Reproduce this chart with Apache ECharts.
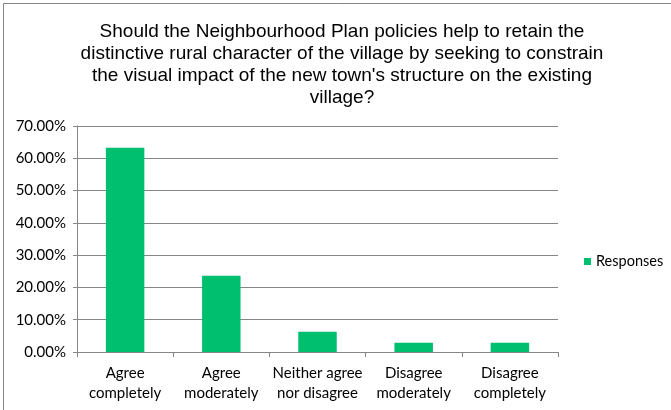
<!DOCTYPE html>
<html><head><meta charset="utf-8">
<script src="https://cdn.jsdelivr.net/npm/echarts@6/dist/echarts.min.js"></script>
<style>html,body{margin:0;padding:0;background:#fff}#c{width:671px;height:410px}</style>
</head><body><div id="c"></div>
<script>
const categories = ['Agree\ncompletely', 'Agree\nmoderately', 'Neither agree\nnor disagree', 'Disagree\nmoderately', 'Disagree\ncompletely'];
const responses = [63.3, 23.6, 6.3, 2.9, 2.9];
const yTicks = [0, 10, 20, 30, 40, 50, 60, 70];
const titleText = "Should the Neighbourhood Plan policies help to retain the\ndistinctive rural character of the village by seeking to constrain\nthe visual impact of the new town's structure on the existing\nvillage?";

const chart = echarts.init(document.getElementById('c'));
chart.setOption({
  animation: false,
  graphic: [{
    type: 'rect', shape: {x: 3.5, y: 3.5, width: 700, height: 430},
    style: {fill: 'none', stroke: '#868686', lineWidth: 1}, silent: true
  }],
  title: {
    text: titleText, left: 337, textAlign: 'center', top: 16,
    textStyle: {fontFamily: 'Liberation Sans', fontSize: 19, fontWeight: 'normal', color: '#000', lineHeight: 22}
  },
  legend: {
    data: ['Responses'], orient: 'vertical', left: 579, top: 249,
    itemWidth: 7, itemHeight: 7, itemGap: 4,
    icon: 'rect',
    textStyle: {fontFamily: 'Lato', fontSize: 14.5, color: '#000', padding: [0,0,0,0]}
  },
  grid: {left: 77, right: 113, top: 126, bottom: 58},
  xAxis: {
    type: 'category', data: categories,
    axisLine: {lineStyle: {color: '#868686'}},
    axisTick: {show: true, length: 5, lineStyle: {color: '#868686'}},
    axisLabel: {fontFamily: 'Lato', fontSize: 15, color: '#000', lineHeight: 20, margin: 11, interval: 0}
  },
  yAxis: {
    type: 'value', min: yTicks[0], max: yTicks[yTicks.length-1], interval: 10,
    axisLine: {show: true, lineStyle: {color: '#868686'}},
    axisTick: {show: true, length: 4, lineStyle: {color: '#868686'}},
    splitLine: {lineStyle: {color: '#868686'}},
    axisLabel: {fontFamily: 'Lato', fontSize: 15, color: '#000', margin: 11, formatter: v => v.toFixed(2) + '%'}
  },
  series: [{
    name: 'Responses', type: 'bar', data: responses, barWidth: '40%',
    itemStyle: {color: '#00BF6F'}
  }]
});
</script></body></html>
